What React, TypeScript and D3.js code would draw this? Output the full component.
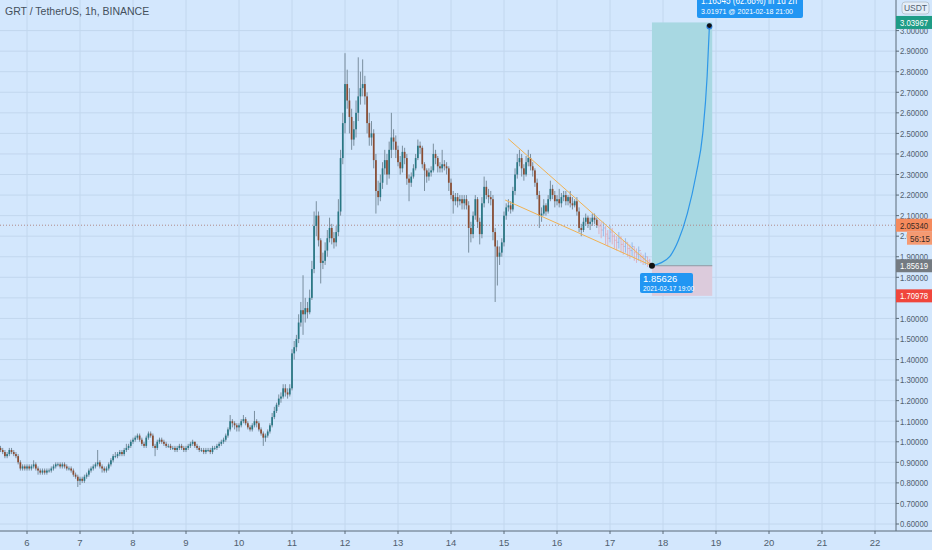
import React from "react";
import * as d3 from "d3";

// hourly GRT/USDT candles, first bar 2021-02-05 12:00 (UTC)
const firstOpen = 0.97;
const closes = [
  // 5th (12:00-23:00)
  0.96, 0.95, 0.93, 0.94, 0.96, 0.95, 0.94, 0.93, 0.9, 0.87, 0.88, 0.87,
  // 6th
  0.88, 0.87, 0.88, 0.89, 0.87, 0.86, 0.85, 0.86, 0.85, 0.86, 0.86, 0.87, 0.88, 0.89, 0.89, 0.88, 0.89, 0.88, 0.87, 0.87, 0.86, 0.84, 0.83, 0.81,
  // 7th
  0.82, 0.81, 0.83, 0.84, 0.86, 0.87, 0.88, 0.89, 0.9, 0.88, 0.87, 0.86, 0.87, 0.89, 0.91, 0.93, 0.93, 0.94, 0.95, 0.94, 0.96, 0.97, 0.98, 1.0,
  // 8th
  1.01, 1.02, 1.03, 1.01, 0.99, 0.98, 1.02, 1.04, 1.03, 0.98, 0.97, 1.0, 1.01, 1.0, 0.99, 0.98, 0.98, 0.97, 0.97, 0.96, 0.97, 0.98, 0.97, 0.96,
  // 9th
  0.97, 0.98, 0.99, 1.0, 0.98, 0.97, 0.96, 0.96, 0.95, 0.96, 0.96, 0.95, 0.97, 0.97, 0.98, 0.99, 1.0, 1.01, 1.03, 1.06, 1.1, 1.09, 1.08, 1.07,
  // 10th
  1.08, 1.1, 1.11, 1.09, 1.07, 1.06, 1.08, 1.1, 1.09, 1.06, 1.04, 1.02, 1.03, 1.05, 1.08, 1.12, 1.15, 1.18, 1.21, 1.22, 1.26, 1.24, 1.23, 1.26,
  // 11th
  1.43, 1.46, 1.5, 1.58, 1.64, 1.62, 1.65, 1.63, 1.7, 1.84, 2.05, 2.1, 1.98, 1.87, 1.88, 1.93, 1.99, 2.04, 1.99, 1.97, 2.02, 2.12, 2.38, 2.55,
  // 12th
  2.74, 2.66, 2.58, 2.47, 2.52, 2.6, 2.68, 2.72, 2.74, 2.68, 2.55, 2.48, 2.5, 2.37, 2.22, 2.19, 2.26, 2.33, 2.37, 2.3, 2.42, 2.48, 2.46, 2.42,
  // 13th
  2.36, 2.33, 2.41, 2.38, 2.28, 2.26, 2.29, 2.33, 2.38, 2.44, 2.43, 2.35, 2.32, 2.29, 2.31, 2.32, 2.4, 2.38, 2.34, 2.33, 2.35, 2.34, 2.33, 2.26,
  // 14th
  2.2, 2.17, 2.19, 2.17, 2.18, 2.16, 2.18, 2.15, 2.04, 2.01, 2.1, 2.18, 2.07, 2.01, 2.16, 2.24, 2.2, 2.19, 2.18, 2.02, 1.95, 1.9, 1.92, 1.97,
  // 15th
  2.1, 2.14, 2.15, 2.13, 2.22, 2.3, 2.36, 2.38, 2.33, 2.3, 2.36, 2.38, 2.34, 2.32, 2.26, 2.2, 2.1, 2.11, 2.15, 2.12, 2.18, 2.23, 2.2, 2.17,
  // 16th (00:00-18:00)
  2.18, 2.16, 2.19, 2.2, 2.17, 2.19, 2.16, 2.15, 2.17, 2.12, 2.04, 2.03, 2.07, 2.09, 2.06, 2.07, 2.09, 2.08, 2.0534,
];
const highs = [
  0.98, 0.97, 0.96, 0.95, 0.97, 0.97, 0.96, 0.95, 0.94, 0.91, 0.89, 0.89,
  0.89, 0.89, 0.89, 0.91, 0.9, 0.88, 0.87, 0.87, 0.87, 0.87, 0.87, 0.88, 0.89, 0.9, 0.9, 0.9, 0.9, 0.9, 0.89, 0.88, 0.88, 0.87, 0.85, 0.84,
  0.83, 0.83, 0.84, 0.85, 0.87, 0.88, 0.89, 0.9, 0.96, 0.91, 0.89, 0.88, 0.88, 0.9, 0.92, 0.94, 0.95, 0.95, 0.96, 0.96, 0.97, 0.99, 0.99, 1.01,
  1.02, 1.03, 1.04, 1.04, 1.02, 1.0, 1.03, 1.05, 1.05, 1.04, 0.99, 1.01, 1.02, 1.02, 1.01, 1.0, 0.99, 0.99, 0.98, 0.98, 0.98, 0.99, 0.99, 0.98,
  0.98, 0.99, 1.0, 1.01, 1.0, 0.99, 0.98, 0.97, 0.97, 0.97, 0.97, 0.97, 0.98, 0.98, 0.99, 1.0, 1.01, 1.02, 1.04, 1.07, 1.13, 1.11, 1.1, 1.09,
  1.09, 1.11, 1.13, 1.12, 1.1, 1.08, 1.09, 1.15, 1.11, 1.1, 1.07, 1.05, 1.04, 1.06, 1.09, 1.14, 1.17, 1.19, 1.23, 1.24, 1.28, 1.28, 1.26, 1.28,
  1.45, 1.49, 1.52, 1.62, 1.68, 1.81, 1.7, 1.68, 1.74, 1.88, 2.12, 2.17, 2.12, 1.99, 1.92, 1.97, 2.03, 2.09, 2.06, 2.02, 2.05, 2.18, 2.42, 2.6,
  2.89, 2.81, 2.72, 2.62, 2.56, 2.66, 2.87, 2.8, 2.86, 2.78, 2.7, 2.6, 2.56, 2.52, 2.4, 2.27, 2.3, 2.36, 2.42, 2.4, 2.46, 2.6, 2.52, 2.49,
  2.44, 2.39, 2.44, 2.43, 2.4, 2.3, 2.31, 2.35, 2.4, 2.47, 2.46, 2.44, 2.36, 2.33, 2.33, 2.34, 2.45, 2.42, 2.39, 2.36, 2.42, 2.37, 2.36, 2.34,
  2.28, 2.22, 2.21, 2.21, 2.2, 2.2, 2.2, 2.2, 2.17, 2.07, 2.12, 2.2, 2.19, 2.09, 2.19, 2.29, 2.27, 2.23, 2.22, 2.2, 2.04, 1.98, 1.95, 1.99,
  2.12, 2.16, 2.18, 2.17, 2.24, 2.33, 2.4, 2.42, 2.4, 2.35, 2.39, 2.42, 2.4, 2.36, 2.33, 2.28, 2.22, 2.14, 2.18, 2.16, 2.2, 2.27, 2.25, 2.22,
  2.2, 2.23, 2.21, 2.22, 2.22, 2.2, 2.22, 2.19, 2.18, 2.19, 2.14, 2.06, 2.09, 2.11, 2.1, 2.09, 2.11, 2.11, 2.09,
];
const lows = [
  0.95, 0.94, 0.92, 0.92, 0.93, 0.94, 0.93, 0.92, 0.89, 0.86, 0.86, 0.86,
  0.86, 0.86, 0.86, 0.87, 0.86, 0.84, 0.84, 0.84, 0.84, 0.84, 0.85, 0.85, 0.86, 0.87, 0.88, 0.87, 0.87, 0.87, 0.86, 0.86, 0.85, 0.83, 0.82, 0.78,
  0.79, 0.8, 0.8, 0.82, 0.83, 0.85, 0.86, 0.87, 0.88, 0.87, 0.85, 0.85, 0.85, 0.86, 0.88, 0.9, 0.92, 0.92, 0.93, 0.93, 0.93, 0.95, 0.96, 0.97,
  0.99, 1.0, 1.01, 1.0, 0.98, 0.97, 0.97, 1.01, 1.02, 0.97, 0.93, 0.96, 0.99, 0.99, 0.98, 0.97, 0.97, 0.96, 0.96, 0.95, 0.95, 0.96, 0.96, 0.95,
  0.95, 0.96, 0.97, 0.98, 0.97, 0.96, 0.95, 0.95, 0.94, 0.94, 0.95, 0.94, 0.94, 0.96, 0.96, 0.97, 0.98, 0.99, 1.0, 1.02, 1.05, 1.07, 1.06, 1.05,
  1.05, 1.07, 1.09, 1.08, 1.06, 1.05, 1.05, 1.07, 1.07, 1.05, 1.03, 0.98, 1.0, 1.02, 1.04, 1.07, 1.11, 1.14, 1.17, 1.19, 1.21, 1.22, 1.21, 1.22,
  1.25, 1.4, 1.44, 1.48, 1.56, 1.52, 1.58, 1.6, 1.62, 1.69, 1.82, 2.0, 1.95, 1.77, 1.84, 1.86, 1.9, 1.97, 1.96, 1.94, 1.95, 2.0, 2.1, 2.35,
  2.5, 2.62, 2.5, 2.42, 2.44, 2.48, 2.56, 2.64, 2.68, 2.64, 2.5, 2.44, 2.44, 2.33, 2.11, 2.15, 2.17, 2.23, 2.3, 2.25, 2.28, 2.38, 2.42, 2.38,
  2.34, 2.3, 2.31, 2.35, 2.25, 2.17, 2.24, 2.28, 2.32, 2.37, 2.4, 2.33, 2.22, 2.26, 2.27, 2.29, 2.31, 2.35, 2.31, 2.31, 2.31, 2.32, 2.3, 2.22,
  2.18, 2.11, 2.15, 2.14, 2.15, 2.13, 2.13, 2.13, 1.92, 1.97, 1.99, 2.08, 2.04, 1.96, 1.99, 2.14, 2.18, 2.16, 2.15, 1.98, 1.68, 1.76, 1.86, 1.9,
  1.95, 2.08, 2.12, 2.11, 2.12, 2.2, 2.28, 2.34, 2.29, 2.27, 2.29, 2.34, 2.32, 2.29, 2.24, 2.18, 2.04, 2.07, 2.1, 2.1, 2.11, 2.17, 2.18, 2.14,
  2.15, 2.14, 2.14, 2.17, 2.15, 2.15, 2.14, 2.13, 2.14, 2.1, 2.02, 2.0, 2.02, 2.05, 2.04, 2.03, 2.05, 2.06, 2.04,
];

// projected "bars pattern" into the wedge apex
const ghostCloses = [2.05, 2.03, 2.04, 2.01, 1.99, 2.02, 2.0, 1.98, 1.97, 1.99, 1.96, 1.95, 1.97, 1.94, 1.93, 1.95, 1.92, 1.91, 1.93, 1.9, 1.89, 1.9, 1.88, 1.87];
const ghostHighs = [2.08, 2.07, 2.07, 2.05, 2.03, 2.05, 2.04, 2.01, 2.0, 2.02, 2.0, 1.98, 1.99, 1.97, 1.96, 1.97, 1.95, 1.94, 1.95, 1.92, 1.91, 1.92, 1.9, 1.89];
const ghostLows = [2.01, 1.99, 2.0, 1.96, 1.95, 1.97, 1.96, 1.94, 1.93, 1.94, 1.92, 1.91, 1.92, 1.9, 1.89, 1.9, 1.88, 1.87, 1.88, 1.87, 1.86, 1.86, 1.85, 1.85];

// long position tool
const entryPrice = 1.85626;
const targetPrice = 3.03967;
const stopPrice = 1.70978;
const currentPrice = 2.0534;
// projected path, hours after the entry bar
const pathHours = [0, 4, 8, 12, 16, 20, 23, 25, 26];
const pathPrices = [1.85626, 1.87, 1.9, 1.98, 2.11, 2.3, 2.5, 2.78, 3.01971];

// falling wedge: [day, hour, price]
const wedgeUpper = [[15, 2, 2.473], [17, 19, entryPrice]];
const wedgeLower = [[15, 0.5, 2.176], [17, 19, entryPrice]];

const dayTicks = [6, 7, 8, 9, 10, 11, 12, 13, 14, 15, 16, 17, 18, 19, 20, 21, 22];
const priceTicks = [0.6, 0.7, 0.8, 0.9, 1.0, 1.1, 1.2, 1.3, 1.4, 1.5, 1.6, 1.7, 1.8, 1.9, 2.0, 2.1, 2.2, 2.3, 2.4, 2.5, 2.6, 2.7, 2.8, 2.9, 3.0];

const W = 932;
const H = 550;
const AXIS_X = 896;
const AXIS_Y = 531;
const HOUR = 3600e3;
const START = Date.UTC(2021, 1, 5, 12);
const at = (day: number, hour: number) => new Date(Date.UTC(2021, 1, day, 0) + hour * HOUR);

const FONT = "'Liberation Sans', Arial, sans-serif";
const TXT = "#50606e";

const App = () => {
  const x = d3.scaleUtc().domain([at(6, 0), at(22, 0)]).range([27, 875]);
  const y = d3.scaleLinear().domain([0.6, 3.0]).range([524, 30.6]);
  const fmt = d3.format(".5f");

  const candles = closes.map((c, i) => {
    const o = i ? closes[i - 1] : firstOpen;
    return {
      t: new Date(START + i * HOUR),
      o,
      c,
      h: Math.max(highs[i], o, c),
      l: Math.min(lows[i], o, c),
    };
  });
  const entryTime = at(17, 19);
  const ghosts = ghostCloses.map((c, i) => ({
    t: new Date(+entryTime - (ghostCloses.length - i) * HOUR),
    o: i ? ghostCloses[i - 1] : currentPrice,
    c,
    h: ghostHighs[i],
    l: ghostLows[i],
  }));

  const bw = 1.7;
  const boxL = x(entryTime);
  const boxR = x(at(18, 22.3));

  const path = d3
    .line<number>()
    .x((h) => x(new Date(+entryTime + h * HOUR)))
    .y((_, i) => y(pathPrices[i]))
    .curve(d3.curveMonotoneX)(pathHours);

  const wedge = (pts: number[][]) =>
    d3
      .line<number[]>()
      .x((d) => x(at(d[0], d[1])))
      .y((d) => y(d[2]))(pts);

  const tgt = { x: x(at(18, 21)), y: y(3.01971) };

  // axis price text, squeezed to the narrow axis like the original
  const priceText = (label: string, yy: number, color: string, key?: string) => (
    <text key={key} x={900} y={yy} fontSize={9} fill={color} fontFamily={FONT} textLength={28} lengthAdjust="spacingAndGlyphs">
      {label}
    </text>
  );

  const tag = (p: number, fill: string, color: string, text?: string) => {
    const cy = y(p);
    return (
      <g key={text ?? fmt(p)}>
        <rect x={AXIS_X} y={cy - 6.5} width={W - AXIS_X} height={13} fill={fill} />
        {priceText(text ?? fmt(p), cy + 3.3, color)}
      </g>
    );
  };

  // axis labels fully hidden under a tag are not drawn
  const hidden = (p: number) => Math.abs(y(p) - y(stopPrice)) < 9;

  return (
    <svg width={W} height={H} style={{ display: "block" }}>
      <style>{"body{margin:0}"}</style>
      <rect width={W} height={H} fill="#d3e7fd" />

      {/* grid */}
      {priceTicks.map((p) => (
        <line key={"h" + p} x1={0} x2={AXIS_X} y1={y(p)} y2={y(p)} stroke="#c2d7ee" />
      ))}
      {dayTicks.map((d) => (
        <line key={"v" + d} x1={x(at(d, 0))} x2={x(at(d, 0))} y1={0} y2={AXIS_Y} stroke="#c2d7ee" />
      ))}

      <text x={5} y={15} fontSize={10.5} fill="#44505c" fontFamily={FONT}>
        GRT / TetherUS, 1h, BINANCE
      </text>

      {/* position zones */}
      <rect x={boxL} y={y(targetPrice)} width={boxR - boxL} height={y(entryPrice) - y(targetPrice)} fill="#a8d8e2" />
      <rect x={boxL} y={y(entryPrice)} width={boxR - boxL} height={y(stopPrice) - y(entryPrice)} fill="#dccbdc" />
      <line x1={boxL} x2={boxR} y1={y(entryPrice)} y2={y(entryPrice)} stroke="#8d9aa3" />

      {/* current price line */}
      <line x1={0} x2={AXIS_X} y1={y(currentPrice)} y2={y(currentPrice)} stroke="#b08a88" strokeDasharray="1 2" />

      {/* candles */}
      {candles.map((d, i) => {
        const cx = x(d.t);
        const up = d.c >= d.o;
        const top = y(Math.max(d.o, d.c));
        const bot = y(Math.min(d.o, d.c));
        return (
          <g key={i}>
            <line x1={cx} x2={cx} y1={y(d.h)} y2={y(d.l)} stroke="#6f8494" strokeWidth={0.9} />
            <rect x={cx - bw / 2} y={top} width={bw} height={Math.max(0.8, bot - top)} fill={up ? "#287784" : "#8a4c32"} />
          </g>
        );
      })}

      {/* ghost bars */}
      {ghosts.map((d, i) => {
        const cx = x(d.t);
        const col = d.c >= d.o ? "#6f9fe0" : "#e48f9a";
        return (
          <g key={"g" + i} stroke={col} strokeWidth={0.8} opacity={0.75}>
            <line x1={cx} x2={cx} y1={y(d.h)} y2={y(d.l)} />
            <line x1={cx - 1} x2={cx} y1={y(d.o)} y2={y(d.o)} />
            <line x1={cx} x2={cx + 1} y1={y(d.c)} y2={y(d.c)} />
          </g>
        );
      })}

      {/* wedge */}
      <path d={wedge(wedgeUpper) ?? ""} fill="none" stroke="#f0b152" strokeWidth={1} />
      <path d={wedge(wedgeLower) ?? ""} fill="none" stroke="#f0b152" strokeWidth={1} />

      {/* projection path */}
      <path d={path ?? ""} fill="none" stroke="#2e97e8" strokeWidth={1.2} />
      <circle cx={boxL} cy={y(entryPrice)} r={3} fill="#111" />
      <circle cx={tgt.x} cy={tgt.y} r={3} fill="#2e7fe0" />
      <circle cx={tgt.x} cy={tgt.y - 1} r={2.4} fill="#111" />

      {/* labels of the projection */}
      <rect x={697} y={-8} width={106} height={26} rx={2} fill="#2196f3" />
      <text x={701} y={4} fontSize={11} fill="#fff" fontFamily={FONT} textLength={96} lengthAdjust="spacingAndGlyphs">
        1.16345 (62.68%) in 1d 2h
      </text>
      <text x={701} y={13.5} fontSize={8} fill="#fff" fontFamily={FONT} textLength={92} lengthAdjust="spacingAndGlyphs">
        3.01971 @ 2021-02-18  21:00
      </text>
      <rect x={640} y={273} width={53} height={20} rx={2} fill="#2196f3" />
      <text x={643} y={282} fontSize={9.5} fill="#fff" fontFamily={FONT}>
        1.85626
      </text>
      <text x={643} y={290.5} fontSize={6.5} fill="#fff" fontFamily={FONT}>
        2021-02-17 19:00
      </text>

      {/* price axis */}
      <line x1={AXIS_X} x2={AXIS_X} y1={0} y2={AXIS_Y} stroke="#5a6a78" />
      {priceTicks.map((p) => (
        <g key={"pt" + p}>
          <line x1={AXIS_X} x2={AXIS_X + 3} y1={y(p)} y2={y(p)} stroke="#5a6a78" />
          {!hidden(p) && priceText(fmt(p), y(p) + 3.3, TXT)}
        </g>
      ))}

      {/* time axis */}
      <line x1={0} x2={W} y1={AXIS_Y} y2={AXIS_Y} stroke="#5a6a78" />
      {dayTicks.map((d) => (
        <g key={"dt" + d}>
          <line x1={x(at(d, 0))} x2={x(at(d, 0))} y1={AXIS_Y} y2={AXIS_Y + 3} stroke="#5a6a78" />
          <text x={x(at(d, 0))} y={AXIS_Y + 15} fontSize={9.5} fill={TXT} textAnchor="middle" fontFamily={FONT}>
            {d}
          </text>
        </g>
      ))}

      {/* axis tags */}
      <rect x={902} y={2} width={27} height={12} rx={3} fill="#e4eef8" stroke="#b7c5d2" />
      <text x={915.5} y={11} fontSize={8.5} fill={TXT} textAnchor="middle" fontFamily={FONT}>
        USDT
      </text>
      {tag(targetPrice, "#1e9c86", "#fff")}
      {tag(currentPrice, "#f58a5c", "#3a2a24")}
      <rect x={907} y={y(currentPrice) + 6.5} width={W - 907} height={13} fill="#f59a72" />
      <text x={910} y={y(currentPrice) + 16.3} fontSize={9.5} fill="#3a2a24" fontFamily={FONT} textLength={20} lengthAdjust="spacingAndGlyphs">
        56:15
      </text>
      {tag(entryPrice - 0.00007, "#747b82", "#fff", "1.85619")}
      {tag(stopPrice, "#f0463c", "#fff")}
    </svg>
  );
};

export default App;
